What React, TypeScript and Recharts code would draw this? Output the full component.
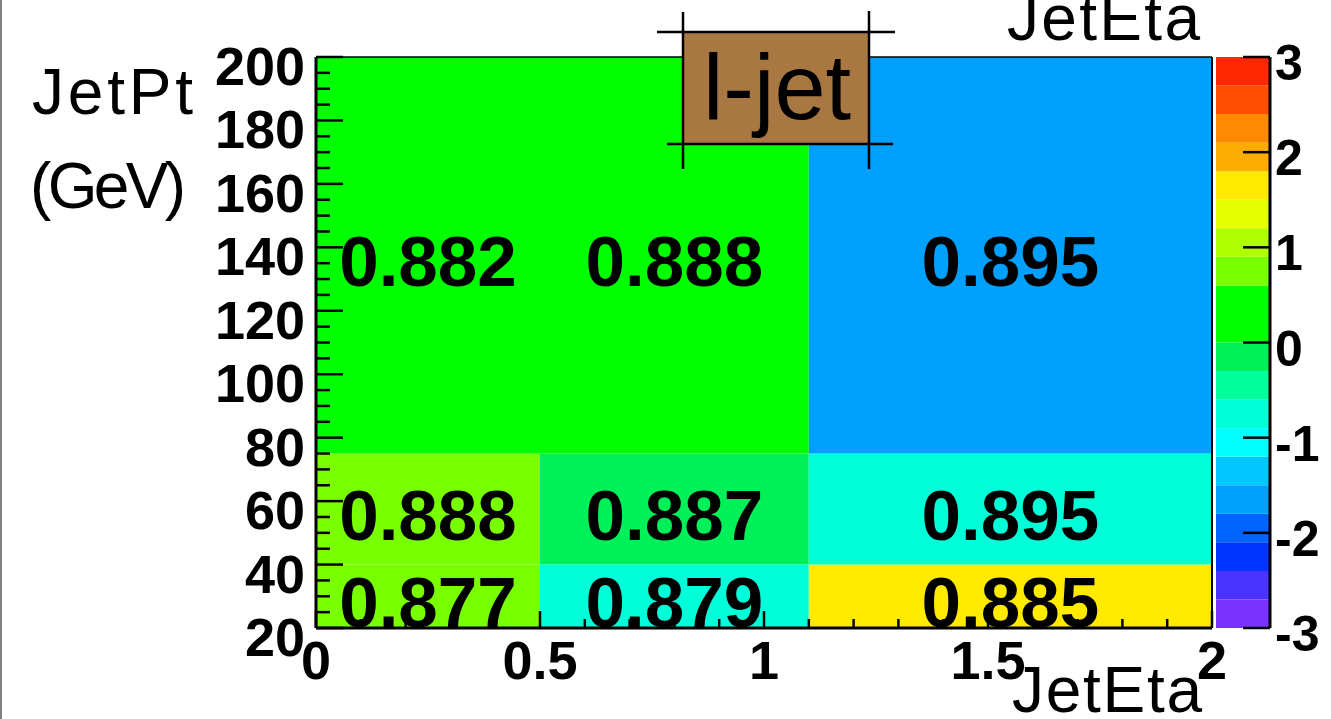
import React from 'react';
import { ComposedChart, XAxis, YAxis, ReferenceArea, ReferenceLine } from 'recharts';

// bin edges of the 2D histogram
const etaEdges = [0, 0.5, 1.1, 2];
const ptEdges = [20, 40, 75, 200];

// numbers printed in each cell, rows go from low pt to high pt
const efficiency = [
  [0.877, 0.879, 0.885],
  [0.888, 0.887, 0.895],
  [0.882, 0.888, 0.895],
];

// colour (z) of each cell
const zValues = [
  [0.75, -0.75, 1.65],
  [0.75, -0.15, -0.75],
  [0.3, 0.3, -1.65],
];

// tick labels
const etaMajor = [0, 0.5, 1, 1.5, 2];
const ptMajor = [20, 40, 60, 80, 100, 120, 140, 160, 180, 200];
const zMajor = [-3, -2, -1, 0, 1, 2, 3];

// ROOT palette, bottom to top
const palette = [
  '#7a32ff', '#4a32ff', '#0034ff', '#0064ff', '#00a0ff',
  '#00c8ff', '#00ffff', '#00ffd8', '#00ff9a', '#00f05a',
  '#00ff00', '#00ff00', '#78ff00', '#b0ff00', '#e5ff00',
  '#ffea00', '#ffac00', '#ff8a00', '#ff4e00', '#ff2800',
];
const zMin = -3;
const zMax = 3;

const W = 1331;
const H = 719;
const FONT = "'Liberation Sans', Arial, Helvetica, sans-serif";
const plotMargin = { top: 57, right: 119, bottom: 91, left: 316 };
// axis layers give 1px to the axis itself
const axisMargin = { top: 57, right: 119, bottom: 90, left: 315 };
const barMargin = { top: 57, right: 61, bottom: 91, left: 1216 };
const barAxisMargin = { top: 57, right: 60, bottom: 91, left: 1216 };

const etaTicks = Array.from({ length: 21 }, (_, i) => i / 10);
const ptTicks = Array.from({ length: 37 }, (_, i) => 20 + i * 5);
const zStep = (zMax - zMin) / palette.length;

const isMajor = (list: number[], v: number) => list.some((m) => Math.abs(m - v) < 1e-6);

function colorFor(z: number) {
  const idx = Math.min(palette.length - 1, Math.max(0, Math.floor((z - zMin) / zStep)));
  return palette[idx];
}

function EtaTick({ x, y, payload }: any) {
  const v = payload.value;
  const major = isMajor(etaMajor, v);
  return (
    <g>
      <line x1={x} x2={x} y1={y} y2={y - (major ? 17 : 9)} stroke="#000" strokeWidth={2.5} />
      {major && (
        <text x={x} y={y + 51} textAnchor="middle" fontFamily={FONT} fontWeight="bold" fontSize={54} fill="#000">
          {String(v)}
        </text>
      )}
    </g>
  );
}

function PtTick({ x, y, payload }: any) {
  const v = payload.value;
  const major = isMajor(ptMajor, v);
  return (
    <g>
      <line x1={x} x2={x + (major ? 27 : 14)} y1={y} y2={y} stroke="#000" strokeWidth={2.5} />
      {major && (
        <text x={x - 11} y={y + 28} textAnchor="end" fontFamily={FONT} fontWeight="bold" fontSize={54} fill="#000">
          {String(v)}
        </text>
      )}
    </g>
  );
}

function ZTick({ x, y, payload }: any) {
  return (
    <g>
      <line x1={x} x2={x - 27} y1={y} y2={y} stroke="#000" strokeWidth={2.5} />
      <text x={x + 5} y={y + 23} textAnchor="start" fontFamily={FONT} fontWeight="bold" fontSize={50} fill="#000">
        {String(payload.value)}
      </text>
    </g>
  );
}

const cellLabel = (text: string) => (p: any) => {
  const vb = p.viewBox || {};
  const cx = vb.x + vb.width / 2;
  const cy = vb.y + vb.height / 2;
  return (
    <text x={cx} y={cy + 31} textAnchor="middle" fontFamily={FONT} fontWeight="bold" fontSize={71} fill="#000">
      {text}
    </text>
  );
};

const layer: React.CSSProperties = { position: 'absolute', left: 0, top: 0 };

export default function App() {
  const cells = efficiency.flatMap((row, r) =>
    row.map((val, c) => ({
      key: `${r}-${c}`,
      x1: etaEdges[c],
      x2: etaEdges[c + 1],
      y1: ptEdges[r],
      y2: ptEdges[r + 1],
      fill: colorFor(zValues[r][c]),
      text: val.toFixed(3),
    }))
  );

  return (
    <div style={{ position: 'absolute', left: 0, top: 0, width: W, height: H, background: '#fff', overflow: 'hidden' }}>
      {/* histogram cells */}
      <div style={layer}>
        <ComposedChart width={W} height={H} data={[]} margin={plotMargin}>
          <XAxis type="number" dataKey="x" domain={[0, 2]} allowDataOverflow hide height={0} />
          <YAxis type="number" dataKey="y" domain={[20, 200]} allowDataOverflow hide width={0} />
          {cells.map((c) => (
            <ReferenceArea
              key={c.key}
              x1={c.x1}
              x2={c.x2}
              y1={c.y1}
              y2={c.y2}
              fill={c.fill}
              fillOpacity={1}
              stroke="none"
              label={cellLabel(c.text)}
            />
          ))}
        </ComposedChart>
      </div>

      {/* axes and frame */}
      <div style={layer}>
        <ComposedChart width={W} height={H} data={[]} margin={axisMargin}>
          <XAxis
            type="number"
            dataKey="x"
            domain={[0, 2]}
            allowDataOverflow
            ticks={etaTicks}
            interval={0}
            tickSize={0}
            tickMargin={0}
            height={1}
            tick={<EtaTick />}
            axisLine={{ stroke: '#000', strokeWidth: 3 }}
          />
          <YAxis
            type="number"
            dataKey="y"
            domain={[20, 200]}
            allowDataOverflow
            ticks={ptTicks}
            interval={0}
            tickSize={0}
            tickMargin={0}
            width={1}
            tick={<PtTick />}
            axisLine={{ stroke: '#000', strokeWidth: 3 }}
          />
          <ReferenceLine y={200} stroke="#000" strokeWidth={1.5} />
          <ReferenceLine x={2} stroke="#000" strokeWidth={2} />
        </ComposedChart>
      </div>

      {/* palette */}
      <div style={layer}>
        <ComposedChart width={W} height={H} data={[]} margin={barMargin}>
          <XAxis type="number" dataKey="x" domain={[0, 1]} allowDataOverflow hide height={0} />
          <YAxis type="number" dataKey="y" domain={[zMin, zMax]} allowDataOverflow hide width={0} />
          {palette.map((col, i) => (
            <ReferenceArea
              key={i}
              x1={0}
              x2={1}
              y1={zMin + i * zStep}
              y2={zMin + (i + 1) * zStep}
              fill={col}
              fillOpacity={1}
              stroke="none"
            />
          ))}
        </ComposedChart>
      </div>
      <div style={layer}>
        <ComposedChart width={W} height={H} data={[]} margin={barAxisMargin}>
          <XAxis type="number" dataKey="x" domain={[0, 1]} allowDataOverflow hide height={0} />
          <YAxis
            type="number"
            dataKey="y"
            orientation="right"
            domain={[zMin, zMax]}
            allowDataOverflow
            ticks={zMajor}
            interval={0}
            tickSize={0}
            tickMargin={0}
            width={1}
            tick={<ZTick />}
            axisLine={{ stroke: '#000', strokeWidth: 3 }}
          />
        </ComposedChart>
      </div>

      {/* titles and the l-jet box */}
      <svg width={W} height={H} style={{ ...layer, pointerEvents: 'none' }}>
        <line x1={1} x2={1} y1={0} y2={H} stroke="#808080" strokeWidth={2} />
        <text x={32} y={114} fontFamily={FONT} fontSize={64} textLength={161} lengthAdjust="spacing" fill="#000">JetPt</text>
        <text x={30} y={208} fontFamily={FONT} fontSize={64} textLength={156} lengthAdjust="spacing" fill="#000">(GeV)</text>
        <text x={1007} y={40} fontFamily={FONT} fontSize={64} textLength={193} lengthAdjust="spacing" fill="#000">JetEta</text>
        <text x={1012} y={712} fontFamily={FONT} fontSize={64} textLength={190} lengthAdjust="spacing" fill="#000">JetEta</text>

        <rect x={683} y={32} width={186} height={112} fill="#a97842" />
        <line x1={657} x2={895} y1={32} y2={32} stroke="#000" strokeWidth={2.5} />
        <line x1={667} x2={893} y1={144} y2={144} stroke="#000" strokeWidth={2.5} />
        <line x1={683} x2={683} y1={12} y2={169} stroke="#000" strokeWidth={2.5} />
        <line x1={869} x2={869} y1={11} y2={169} stroke="#000" strokeWidth={2.5} />
        <text x={777} y={119} textAnchor="middle" fontFamily={FONT} fontSize={92} fill="#000">l-jet</text>
      </svg>
    </div>
  );
}
